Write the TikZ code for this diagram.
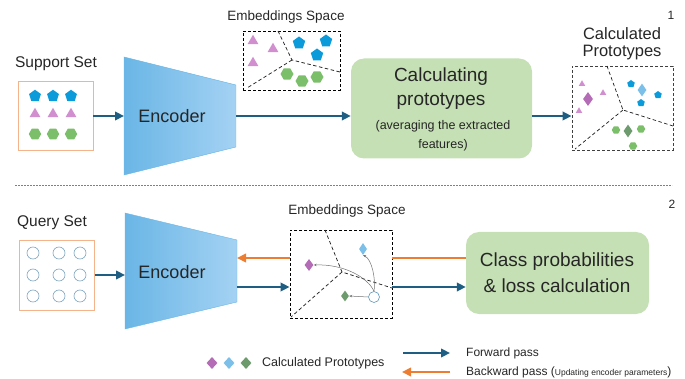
\documentclass[tikz,border=0pt]{standalone}
\usepackage{fontspec}
\setmainfont{Liberation Sans}
\usetikzlibrary{shapes.geometric,arrows.meta}
\definecolor{cFwd}{HTML}{1D5E82}
\definecolor{cBwd}{HTML}{ED7D31}
\definecolor{cGbox}{HTML}{C5E0B4}
\definecolor{cPent}{HTML}{0B9BDB}
\definecolor{cTri}{HTML}{D18FD0}
\definecolor{cHex}{HTML}{7CBF6A}
\definecolor{cDpur}{HTML}{B56CB6}
\definecolor{cDblu}{HTML}{7CC0EA}
\definecolor{cDgrn}{HTML}{6D9B6E}
\definecolor{cEncL}{HTML}{6AB6E6}
\definecolor{cEncR}{HTML}{A4D2F3}
\definecolor{cSbox}{HTML}{F5B38B}
\definecolor{cQcirc}{HTML}{7FA6BF}
\begin{document}
\begin{tikzpicture}[x=1pt,y=-1pt,
  txt/.style={inner sep=0pt,text=black!85},
  pentn/.style={regular polygon,regular polygon sides=5,fill=cPent,inner sep=0pt,minimum size=#1},
  trin/.style={regular polygon,regular polygon sides=3,fill=cTri,inner sep=0pt,minimum size=#1},
  hexn/.style={regular polygon,regular polygon sides=6,fill=cHex,inner sep=0pt,minimum size=#1},
  dmd/.style={diamond,inner sep=0pt,minimum width=10,minimum height=13,fill=#1},
  dashbox/.style={draw=black,line width=0.9pt,dash pattern=on 3pt off 2pt,inner sep=0pt},
  dline/.style={draw=black!85,line width=0.75pt,dash pattern=on 3.5pt off 2.5pt},
  fwd/.style={draw=cFwd,line width=2.6pt,-{Triangle[length=9pt,width=8.5pt]}},
  bwd/.style={draw=cBwd,line width=2.6pt,-{Triangle[length=9pt,width=8.5pt]}},
  bwdline/.style={draw=cBwd,line width=2.6pt},
  gbox/.style={fill=cGbox,rounded corners=13pt,inner sep=0pt},
  thinarr/.style={draw=black!55,line width=0.5pt,-{Stealth[length=3pt,width=2.5pt]}},
  qc/.style={circle,draw=cQcirc,line width=0.6pt,minimum size=12,inner sep=0pt}
]
\useasboundingbox (0,0) rectangle (685,379);

% ---------------- Part 1 ----------------
\node[txt,font=\fontsize{15.5}{18}\selectfont] (suplbl) at (56,64) {Support Set};
\node[draw=cSbox,line width=0.8pt,minimum width=75,minimum height=69,inner sep=0pt] (sup) at (55.5,115.5) {};
\foreach \x [count=\i] in {35,53,71}{
  \node[pentn=12.5] (p\i) at (\x,96) {};
  \node[trin=12.5] (t\i) at (\x,114) {};
  \node[hexn=12.5] (h\i) at (\x,134) {};
}

% encoder 1
\shade[left color=cEncL,right color=cEncR,draw=cEncL,line width=0.4pt]
  (124,57) -- (236,85) -- (236,147) -- (124,175) -- cycle;
\node[txt,font=\fontsize{18}{20}\selectfont] (enc1) at (172,116) {Encoder};
\coordinate (enc1w) at (124,116);
\coordinate (enc1e) at (236,116);

% embeddings space 1
\node[txt,font=\fontsize{13.5}{16}\selectfont] (emb1lbl) at (286,17) {Embeddings Space};
\node[dashbox,minimum width=97,minimum height=59] (emb1) at (291.5,60.5) {};
\coordinate (e1c) at (292,60);
\coordinate (e1t) at (278,31);
\coordinate (e1r) at (340,72);
\coordinate (e1l) at (247,88);
\draw[dline] (e1t) -- (e1c) -- (e1r);
\draw[dline] (e1c) -- (e1l);
\node[trin=12.5] (et1) at (253,41) {};
\node[trin=12.5] (et2) at (273,49) {};
\node[trin=12.5] (et3) at (253,63) {};
\node[pentn=13] (ep1) at (299,43) {};
\node[pentn=13] (ep2) at (326,41) {};
\node[pentn=13] (ep3) at (317,55) {};
\node[hexn=13] (eh1) at (287,74) {};
\node[hexn=13] (eh2) at (302,81) {};
\node[hexn=13] (eh3) at (317,77) {};

% calculating prototypes box
\node[gbox,minimum width=181,minimum height=100] (calc) at (441.5,108.5) {};
\node[txt,font=\fontsize{19}{22}\selectfont] (calc1) at (441,77) {Calculating};
\node[txt,font=\fontsize{19}{22}\selectfont] (calc2) at (441,101) {prototypes};
\node[txt,font=\fontsize{12.5}{15}\selectfont] (calc3) at (443,126) {(averaging the extracted};
\node[txt,font=\fontsize{12.5}{15}\selectfont] (calc4) at (443,145) {features)};

% calculated prototypes
\node[txt,font=\fontsize{16.5}{19}\selectfont] (cp1) at (622,34) {Calculated};
\node[txt,font=\fontsize{16.5}{19}\selectfont] (cp2) at (622,53) {Prototypes};
\node[txt,font=\fontsize{12}{14}\selectfont] (n1) at (671,15) {1};
\node[dashbox,draw=black!75,minimum width=101,minimum height=84] (cpb) at (622.5,108) {};
\coordinate (c2c) at (623,110);
\coordinate (c2t) at (607,66);
\coordinate (c2r) at (673,126);
\coordinate (c2l) at (575,149);
\draw[dline] (c2t) -- (c2c) -- (c2r);
\draw[dline] (c2c) -- (c2l);
\node[trin=7.5] (ct1) at (582,84) {};
\node[trin=7.5] (ct2) at (603,93) {};
\node[trin=7.5] (ct3) at (579,111) {};
\node[dmd=cDpur,minimum width=10,minimum height=14] (cd1) at (588,99) {};
\node[pentn=8] (cpp1) at (631,84) {};
\node[pentn=8] (cpp2) at (641,103) {};
\node[pentn=8] (cpp3) at (658,95) {};
\node[dmd=cDblu,minimum width=9,minimum height=13] (cd2) at (642,90) {};
\node[hexn=8.5] (ch1) at (616,130) {};
\node[hexn=8.5] (ch2) at (641,129) {};
\node[hexn=8.5] (ch3) at (633,146) {};
\node[dmd=cDgrn,minimum width=9,minimum height=13] (cd3) at (628,131) {};

% arrows part 1
\draw[fwd] (sup.east |- enc1w) -- (enc1w);
\draw[fwd] (enc1e) -- (calc.west |- enc1e);
\draw[fwd] (calc.east |- enc1e) -- (cpb.west |- enc1e);

% separator
\coordinate (sepL) at (15,185);
\coordinate (sepR) at (672,185);
\draw[draw=black!50,line width=0.6pt,dash pattern=on 2pt off 1pt] (sepL) -- (sepR);

% ---------------- Part 2 ----------------
\node[txt,font=\fontsize{12}{14}\selectfont] (n2) at (672,204) {2};
\node[txt,font=\fontsize{15.5}{18}\selectfont] (qlbl) at (52,223) {Query Set};
\node[draw=cSbox,line width=0.8pt,minimum width=75,minimum height=70,inner sep=0pt] (qry) at (57,275) {};
\foreach \x [count=\i] in {33,59,80}{
  \foreach \y [count=\j] in {253,275,296}{
    \node[qc] (q\i\j) at (\x,\y) {};
  }
}

% encoder 2
\shade[left color=cEncL,right color=cEncR,draw=cEncL,line width=0.4pt]
  (125,213) -- (237,240) -- (237,302) -- (125,329) -- cycle;
\node[txt,font=\fontsize{18}{20}\selectfont] (enc2) at (172,272) {Encoder};
\coordinate (enc2w) at (125,275);
\coordinate (enc2eb) at (237,258);
\coordinate (enc2ef) at (237,287);

% embeddings space 2
\node[txt,font=\fontsize{13.5}{16}\selectfont] (emb2lbl) at (347,211) {Embeddings Space};
\node[dashbox,minimum width=102,minimum height=88] (emb2) at (341,274) {};
\coordinate (e2c) at (342,272);
\coordinate (e2t) at (325,230);
\coordinate (e2r) at (392,288);
\coordinate (e2l) at (291,317);
\draw[dline] (e2t) -- (e2c) -- (e2r);
\draw[dline] (e2c) -- (e2l);
\node[dmd=cDpur,minimum width=9,minimum height=12] (bd1) at (309,265) {};
\node[dmd=cDblu,minimum width=8,minimum height=12] (bd2) at (363,249) {};
\node[dmd=cDgrn,minimum width=8,minimum height=11] (bd3) at (345,296) {};
\node[circle,draw=cDblu!80!black,fill=white,line width=0.6pt,minimum size=11,inner sep=0pt] (bq) at (374,297) {};
\draw[thinarr] (bq.north) .. controls (368,278) and (345,264) .. (bd1.east);
\draw[thinarr] (bq.north) .. controls (376,280) and (372,259) .. (bd2.south);
\draw[thinarr] (bq.west) -- (bd3.east);

% class probabilities box
\node[gbox,minimum width=183,minimum height=82] (cls) at (557.5,273) {};
\node[txt,font=\fontsize{19}{22}\selectfont] (cls1) at (557,262) {Class probabilities};
\node[txt,font=\fontsize{19}{22}\selectfont] (cls2) at (557,286) {\& loss calculation};

% arrows part 2
\draw[fwd] (qry.east |- enc2w) -- (enc2w);
\draw[bwd] (emb2.west |- enc2eb) -- (enc2eb);
\draw[fwd] (enc2ef) -- (emb2.west |- enc2ef);
\draw[bwdline] (cls.west |- enc2eb) -- (emb2.east |- enc2eb);
\draw[fwd] (emb2.east |- enc2ef) -- (cls.west |- enc2ef);

% legend
\node[dmd=cDpur,minimum width=11,minimum height=12] (ld1) at (212,363) {};
\node[dmd=cDblu,minimum width=11,minimum height=12] (ld2) at (229,363) {};
\node[dmd=cDgrn,minimum width=11,minimum height=12] (ld3) at (246,363) {};
\node[txt,font=\fontsize{12.5}{15}\selectfont,anchor=west] (ldt) at (262,363) {Calculated Prototypes};
\coordinate (lf1) at (403,353);
\coordinate (lf2) at (450,353);
\coordinate (lb1) at (450,372);
\coordinate (lb2) at (402,372);
\draw[fwd] (lf1) -- (lf2);
\draw[bwd] (lb1) -- (lb2);
\node[txt,font=\fontsize{12}{14}\selectfont,anchor=west] (lft) at (466,353) {Forward pass};
\node[txt,font=\fontsize{12}{14}\selectfont,anchor=west] (lbt) at (466,372) {Backward pass (\fontsize{8.5}{10}\selectfont Updating encoder parameters\fontsize{12}{14}\selectfont)};
\end{tikzpicture}
\end{document}
